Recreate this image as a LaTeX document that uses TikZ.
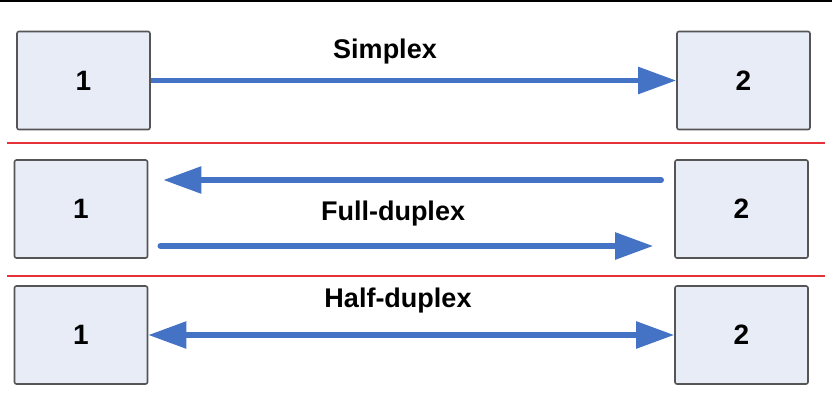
\documentclass[tikz,border=0pt]{standalone}
\usepackage{fontspec}
\setmainfont{Liberation Sans}
\usetikzlibrary{arrows.meta}
\definecolor{boxfill}{HTML}{E8ECF7}
\definecolor{boxline}{HTML}{555555}
\definecolor{arrowblue}{HTML}{4472C4}
\definecolor{sepred}{HTML}{E53238}
\begin{document}
\begin{tikzpicture}[x=1pt,y=-1pt,
  unitbox/.style={draw=boxline,line width=1.6pt,fill=boxfill,rounded corners=2pt,
    minimum width=133pt,minimum height=98pt,inner sep=0pt,
    font=\fontsize{28}{32}\selectfont\bfseries},
  label/.style={font=\fontsize{27}{31}\selectfont\bfseries,inner sep=0pt},
  link/.style={draw=arrowblue,line width=5.5pt},
  tipe/.style={-{Triangle[length=38pt,width=26pt]}},
  sep/.style={draw=sepred,line width=1.2pt}]
\useasboundingbox (0,0) rectangle (832,416);
\fill[white] (0,0) rectangle (832,416);
\draw[line width=2pt] (0,1) -- (832,1);
% row 1
\node[unitbox] (a1) at (83.5,80.5) {1};
\node[unitbox] (a2) at (743.5,80.5) {2};
\node[label] (t1) at (385,52) {Simplex};
\draw[link,tipe] (a1.east) -- (a2.west);
\draw[sep] (7,143) -- (825,143);
% row 2
\node[unitbox] (b1) at (81,209) {1};
\node[unitbox] (b2) at (741.5,209) {2};
\node[label] (t2) at (393,214) {Full-duplex};
\coordinate (p1) at ([shift={(-13pt,29pt)}]b2.west);
\coordinate (p2) at ([shift={(15pt,29pt)}]b1.east);
\coordinate (q1) at ([shift={(12pt,-37pt)}]b1.east);
\coordinate (q2) at ([shift={(-21pt,-37pt)}]b2.west);
\draw[link,tipe,line cap=round] (p1) -- (p2);
\draw[link,tipe,line cap=round] (q1) -- (q2);
\draw[sep] (7,276) -- (825,276);
% row 3
\node[unitbox] (c1) at (81,335) {1};
\node[unitbox] (c2) at (741.5,335) {2};
\node[label] (t3) at (398,301) {Half-duplex};
\draw[link,{Triangle[length=38pt,width=26pt]}-{Triangle[length=38pt,width=26pt]}] (c1.east) -- (c2.west);
\end{tikzpicture}
\end{document}
